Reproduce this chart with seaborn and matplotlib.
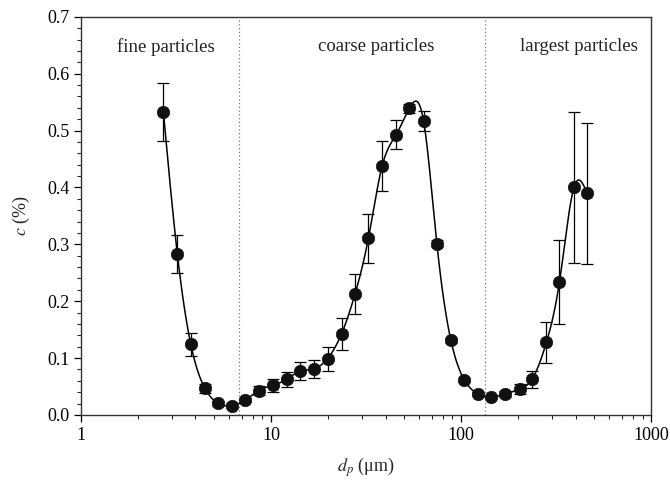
import numpy as np
import pandas as pd
import seaborn as sns
import matplotlib.pyplot as plt
from matplotlib.ticker import MultipleLocator, LogLocator, NullFormatter, FixedLocator, FixedFormatter

# particle diameter (um) and concentration (%)
dp = [2.71, 3.21, 3.78, 4.48, 5.26, 6.23, 7.32, 8.61, 10.2, 12.1, 14.2, 16.8,
      19.8, 23.5, 27.6, 32.5, 38.4, 45.5, 53.4, 63.4, 74.5, 88.3, 104, 122,
      143, 170, 203, 236, 281, 329, 392, 460]
conc = [0.533, 0.283, 0.124, 0.047, 0.0205, 0.0165, 0.026, 0.043, 0.052, 0.063,
        0.077, 0.081, 0.099, 0.143, 0.212, 0.311, 0.438, 0.493, 0.539, 0.517,
        0.301, 0.131, 0.0615, 0.037, 0.031, 0.037, 0.045, 0.063, 0.128, 0.234,
        0.400, 0.390]
err = [0.051, 0.034, 0.020, 0.008, 0.004, 0.004, 0.004, 0.008, 0.011, 0.013,
       0.016, 0.016, 0.021, 0.028, 0.035, 0.043, 0.044, 0.026, 0.008, 0.017,
       0.006, 0.004, 0.004, 0.004, 0.003, 0.005, 0.009, 0.015, 0.036, 0.074,
       0.132, 0.124]
boundaries = [6.8, 134]
regions = ['fine particles', 'coarse particles', 'largest particles']
region_x = [2.8, 35.7, 418]


def natural_spline(x, y, xs):
    # natural cubic spline through (x, y), evaluated at xs
    x = np.asarray(x, float)
    y = np.asarray(y, float)
    n = len(x)
    h = np.diff(x)
    A = np.zeros((n, n))
    b = np.zeros(n)
    A[0, 0] = A[-1, -1] = 1
    for i in range(1, n - 1):
        A[i, i - 1] = h[i - 1]
        A[i, i] = 2 * (h[i - 1] + h[i])
        A[i, i + 1] = h[i]
        b[i] = 3 * ((y[i + 1] - y[i]) / h[i] - (y[i] - y[i - 1]) / h[i - 1])
    c = np.linalg.solve(A, b)
    idx = np.clip(np.searchsorted(x, xs) - 1, 0, n - 2)
    dx = xs - x[idx]
    bb = (y[idx + 1] - y[idx]) / h[idx] - h[idx] * (2 * c[idx] + c[idx + 1]) / 3
    d = (c[idx + 1] - c[idx]) / (3 * h[idx])
    return y[idx] + bb * dx + c[idx] * dx ** 2 + d * dx ** 3


df = pd.DataFrame({'dp': dp, 'c': conc, 'err': err})
lx = np.log10(df['dp'].values)
xs = np.linspace(lx[0], lx[-1], 800)
curve = pd.DataFrame({'dp': 10 ** xs, 'c': natural_spline(lx, df['c'].values, xs)})

sns.set_style('ticks')
plt.rcParams['font.family'] = ['Liberation Serif', 'DejaVu Serif']
plt.rcParams['mathtext.fontset'] = 'stix'

fig = plt.figure(figsize=(6.7, 4.94), dpi=100)
ax = fig.add_axes([0.121, 0.16, 0.851, 0.806])

for b in boundaries:
    ax.axvline(b, color='#777777', ls=(0, (1, 2)), lw=0.9, zorder=1)

sns.lineplot(data=curve, x='dp', y='c', ax=ax, color='black', lw=1.1, zorder=2)
ax.errorbar(df['dp'], df['c'], yerr=df['err'], fmt='none', ecolor='black',
            elinewidth=0.9, capsize=4.5, capthick=0.9, zorder=3)
sns.scatterplot(data=df, x='dp', y='c', ax=ax, color='#111111', s=80,
                edgecolor='#111111', linewidth=0.5, zorder=4)

ax.set_xscale('log')
ax.set_xlim(1, 1000)
ax.set_ylim(0, 0.7)
ax.xaxis.set_major_locator(FixedLocator([1, 10, 100, 1000]))
ax.xaxis.set_major_formatter(FixedFormatter(['1', '10', '100', '1000']))
ax.xaxis.set_minor_locator(LogLocator(base=10, subs=np.arange(2, 10)))
ax.xaxis.set_minor_formatter(NullFormatter())
ax.yaxis.set_major_locator(MultipleLocator(0.1))
ax.yaxis.set_minor_locator(MultipleLocator(0.02))
ax.yaxis.set_major_formatter(plt.FormatStrFormatter('%.1f'))

ax.tick_params(which='major', direction='out', length=5, width=0.9, labelsize=13,
               colors='black', top=False, right=False)
ax.tick_params(which='minor', direction='out', length=3, width=0.8, top=False, right=False)
ax.tick_params(axis='x', pad=4)
for s in ax.spines.values():
    s.set_visible(True)
    s.set_color('#333333')
    s.set_linewidth(1.0)

for t, xpos in zip(regions, region_x):
    ax.text(xpos, 0.647, t, ha='center', va='center', fontsize=13.5, color='#222222')

ax.set_xlabel(r'$d_p$ (μm)', fontsize=13, labelpad=8)
ax.set_ylabel(r'$c$ (%)', fontsize=13, labelpad=11)

fig.savefig('out.png', dpi=100)
